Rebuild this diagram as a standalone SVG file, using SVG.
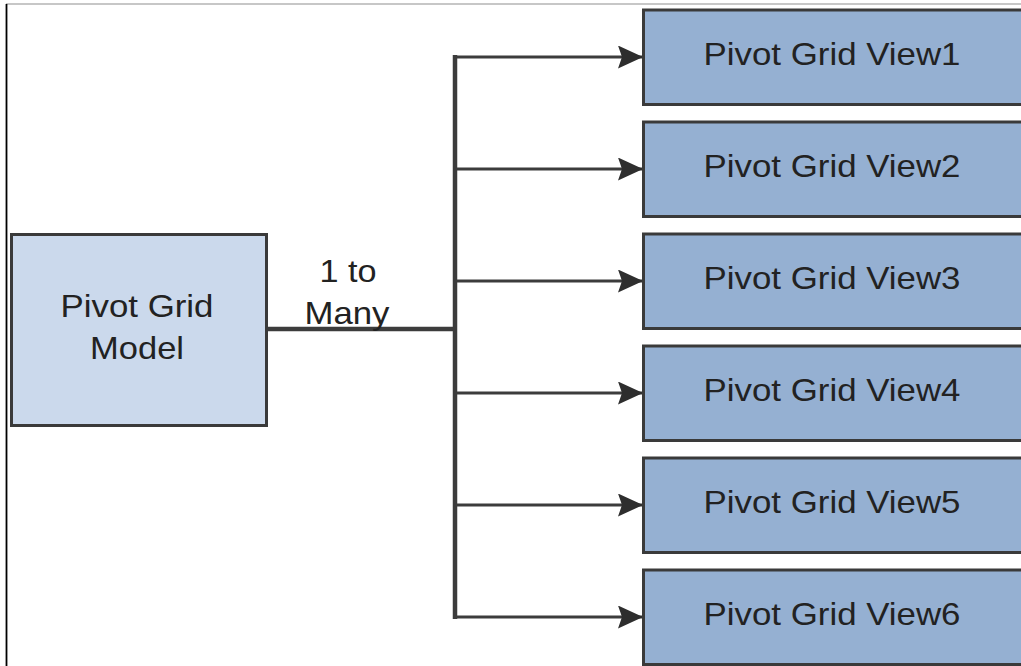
<svg xmlns="http://www.w3.org/2000/svg" width="1021" height="666" viewBox="0 0 1021 666">
<defs>
<style>
.frame-top{stroke:#b4b4b4;stroke-width:1.5;fill:none}
.frame-left{stroke:#000;stroke-width:1.8;fill:none}
.model{fill:#cbd9ec;stroke:#3a3a3a;stroke-width:3}
.view{fill:#95b0d2;stroke:#3a3a3a;stroke-width:3}
.lbl{font-family:"Liberation Sans",Arial,sans-serif;font-size:32px;fill:#222;text-anchor:middle}
.trunk{stroke:#3c3c3c;stroke-width:4.5;fill:none}
.branch{stroke:#3c3c3c;stroke-width:3;fill:none;marker-end:url(#arrow)}
</style>
<marker id="arrow" markerUnits="userSpaceOnUse" markerWidth="26" markerHeight="24" refX="25" refY="11.5" orient="auto">
<path d="M0,0 L25,11.5 L0,23 L4,11.5 Z" fill="#2e2e2e"/>
</marker>
</defs>
<rect width="1021" height="666" fill="#fff"/>
<line class="frame-top" x1="6" y1="4" x2="1021" y2="4"/>
<line class="frame-left" x1="6.5" y1="4" x2="6.5" y2="666"/>

<g id="connectors">
<line class="trunk" x1="266" y1="329" x2="457" y2="329"/>
<line class="trunk" x1="455" y1="55" x2="455" y2="619"/>
<line class="branch" x1="455" y1="57" x2="643" y2="57"/>
<line class="branch" x1="455" y1="169" x2="643" y2="169"/>
<line class="branch" x1="455" y1="281" x2="643" y2="281"/>
<line class="branch" x1="455" y1="393" x2="643" y2="393"/>
<line class="branch" x1="455" y1="505" x2="643" y2="505"/>
<line class="branch" x1="455" y1="617" x2="643" y2="617"/>
<text class="lbl" x="348" y="282" textLength="57" lengthAdjust="spacingAndGlyphs">1 to</text>
<text class="lbl" x="347" y="324" textLength="85" lengthAdjust="spacingAndGlyphs">Many</text>
</g>

<g id="model">
<rect class="model" x="11.5" y="234.5" width="255" height="191"/>
<text class="lbl" x="137" y="317" textLength="153" lengthAdjust="spacingAndGlyphs">Pivot Grid</text>
<text class="lbl" x="137" y="359" textLength="94" lengthAdjust="spacingAndGlyphs">Model</text>
</g>

<g id="view1">
<rect class="view" x="643.5" y="10" width="390" height="94.5"/>
<text class="lbl" x="832" y="65" textLength="257" lengthAdjust="spacingAndGlyphs">Pivot Grid View1</text>
</g>
<g id="view2">
<rect class="view" x="643.5" y="122" width="390" height="94.5"/>
<text class="lbl" x="832" y="177" textLength="257" lengthAdjust="spacingAndGlyphs">Pivot Grid View2</text>
</g>
<g id="view3">
<rect class="view" x="643.5" y="234" width="390" height="94.5"/>
<text class="lbl" x="832" y="289" textLength="257" lengthAdjust="spacingAndGlyphs">Pivot Grid View3</text>
</g>
<g id="view4">
<rect class="view" x="643.5" y="346" width="390" height="94.5"/>
<text class="lbl" x="832" y="401" textLength="257" lengthAdjust="spacingAndGlyphs">Pivot Grid View4</text>
</g>
<g id="view5">
<rect class="view" x="643.5" y="458" width="390" height="94.5"/>
<text class="lbl" x="832" y="513" textLength="257" lengthAdjust="spacingAndGlyphs">Pivot Grid View5</text>
</g>
<g id="view6">
<rect class="view" x="643.5" y="570" width="390" height="94.5"/>
<text class="lbl" x="832" y="625" textLength="257" lengthAdjust="spacingAndGlyphs">Pivot Grid View6</text>
</g>
</svg>
